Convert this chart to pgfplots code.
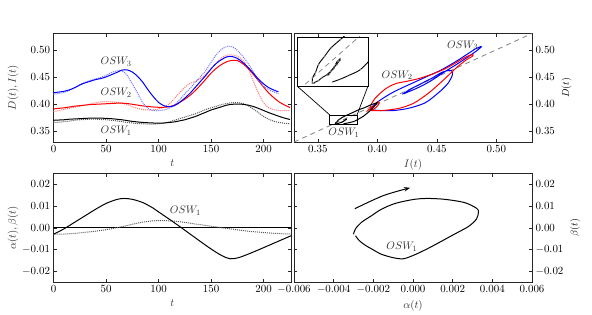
\documentclass[border=0pt]{standalone}
\usepackage{pgfplots}
\pgfplotsset{compat=1.18}
\usepackage{pgfplotstable}
\usetikzlibrary{arrows.meta}

\pgfplotstableread{
t s d
0 0.3700 0.3660
5 0.3705 0.3665
10 0.3710 0.3675
15 0.3720 0.3685
20 0.3725 0.3700
25 0.3730 0.3710
30 0.3735 0.3715
35 0.3740 0.3720
40 0.3740 0.3720
45 0.3740 0.3715
50 0.3735 0.3710
55 0.3730 0.3700
60 0.3720 0.3690
65 0.3710 0.3675
70 0.3695 0.3660
75 0.3680 0.3650
80 0.3670 0.3640
85 0.3660 0.3635
90 0.3655 0.3630
95 0.3650 0.3630
100 0.3650 0.3635
105 0.3650 0.3650
110 0.3660 0.3670
115 0.3670 0.3700
120 0.3690 0.3730
125 0.3710 0.3760
130 0.3740 0.3790
135 0.3770 0.3820
140 0.3810 0.3860
145 0.3850 0.3900
150 0.3890 0.3930
155 0.3920 0.3960
160 0.3950 0.3990
165 0.3980 0.4010
170 0.3995 0.4025
175 0.4000 0.4025
180 0.3995 0.4010
185 0.3980 0.3970
190 0.3955 0.3910
195 0.3920 0.3840
200 0.3880 0.3770
205 0.3840 0.3720
210 0.3805 0.3680
215 0.3770 0.3660
220 0.3740 0.3645
225 0.3715 0.3635
}\oswA

\pgfplotstableread{
t s d
0 0.3910 0.3860
5 0.3920 0.3880
10 0.3930 0.3900
15 0.3945 0.3920
20 0.3960 0.3940
25 0.3970 0.3960
30 0.3980 0.3980
35 0.3990 0.4000
40 0.3995 0.4025
45 0.4000 0.4040
50 0.4005 0.4045
55 0.4010 0.4040
60 0.4015 0.4030
65 0.4015 0.4015
70 0.4010 0.3990
75 0.3995 0.3950
80 0.3980 0.3920
85 0.3965 0.3900
90 0.3955 0.3890
95 0.3945 0.3890
100 0.3940 0.3910
105 0.3940 0.3940
110 0.3950 0.4000
115 0.3980 0.4100
120 0.4030 0.4210
125 0.4090 0.4310
130 0.4160 0.4380
135 0.4250 0.4420
140 0.4350 0.4470
145 0.4460 0.4550
150 0.4570 0.4650
155 0.4660 0.4760
160 0.4730 0.4850
165 0.4780 0.4900
170 0.4805 0.4905
175 0.4800 0.4880
180 0.4745 0.4810
185 0.4660 0.4660
190 0.4550 0.4430
195 0.4430 0.4200
200 0.4310 0.4020
205 0.4200 0.3930
210 0.4110 0.3895
215 0.4035 0.3880
220 0.3980 0.3880
225 0.3935 0.3880
}\oswB

\pgfplotstableread{
t s d
0 0.4210 0.4180
5 0.4220 0.4195
10 0.4235 0.4215
15 0.4260 0.4250
20 0.4300 0.4300
25 0.4350 0.4355
30 0.4390 0.4400
35 0.4420 0.4435
40 0.4450 0.4465
45 0.4470 0.4490
50 0.4500 0.4530
55 0.4540 0.4580
60 0.4580 0.4610
65 0.4625 0.4615
70 0.4630 0.4530
75 0.4590 0.4370
80 0.4510 0.4200
85 0.4400 0.4020
90 0.4260 0.3920
95 0.4135 0.3880
100 0.4030 0.3880
105 0.3970 0.3890
110 0.3950 0.3920
115 0.3970 0.3980
120 0.4030 0.4080
125 0.4110 0.4190
130 0.4200 0.4290
135 0.4310 0.4400
140 0.4420 0.4510
145 0.4530 0.4620
150 0.4650 0.4770
155 0.4750 0.4910
160 0.4820 0.5010
165 0.4870 0.5060
170 0.4875 0.5055
175 0.4840 0.4990
180 0.4770 0.4880
185 0.4680 0.4750
190 0.4570 0.4600
195 0.4460 0.4440
200 0.4370 0.4330
205 0.4300 0.4260
210 0.4255 0.4220
214 0.4225 0.4190
}\oswC

\pgfplotstableread{
t a b
0 -0.0030 -0.0030
10 -0.0005 -0.0029
20 0.0025 -0.0026
30 0.0055 -0.0021
40 0.0085 -0.0016
50 0.0112 -0.0009
60 0.0130 0.0000
67 0.0135 0.0007
75 0.0131 0.0016
85 0.0116 0.0026
95 0.0090 0.0032
100 0.0073 0.0033
110 0.0040 0.0032
120 0.0006 0.0028
130 -0.0029 0.0021
140 -0.0064 0.0014
150 -0.0098 0.0007
160 -0.0128 0.0000
168 -0.0143 -0.0005
176 -0.0138 -0.0010
185 -0.0122 -0.0016
195 -0.0102 -0.0020
205 -0.0081 -0.0024
215 -0.0060 -0.0027
226 -0.0037 -0.0029
}\ab

\definecolor{lblue}{rgb}{0.45,0.45,1}
\definecolor{lred}{rgb}{1,0.45,0.45}
\definecolor{lblack}{rgb}{0.35,0.35,0.35}

\tikzset{lab/.style={font=\fontsize{11}{13}\selectfont, text=black!80}}
\pgfplotsset{
  panel/.style={scale only axis, anchor=south west, width=237.5bp, height=108.5bp,
    axis line style={line width=0.8pt, black!85},
    tick style={line width=0.5pt, black!85}, major tick length=3.5pt,
    tick align=inside, scaled x ticks=false, scaled y ticks=false,
    every tick label/.append style={font=\fontsize{10.5}{12.6}\selectfont},
    label style={font=\fontsize{11}{13}\selectfont, text=black!80},
  },
  leftlab/.style={ylabel style={at={(axis description cs:-0.17,0.5)}, anchor=center}},
  fy2/.style={y tick label style={/pgf/number format/fixed, /pgf/number format/fixed zerofill, /pgf/number format/precision=2}},
  fx2/.style={x tick label style={/pgf/number format/fixed, /pgf/number format/fixed zerofill, /pgf/number format/precision=2}},
  fx3/.style={x tick label style={/pgf/number format/fixed, /pgf/number format/fixed zerofill, /pgf/number format/precision=3}},
  sl/.style={line width=1pt, smooth},
  dl/.style={line width=1pt, densely dotted, smooth},
}

\begin{document}
\begin{tikzpicture}
\useasboundingbox (0,0) rectangle (592bp,315bp);

% top left
\begin{axis}[panel, at={(53.5bp,173bp)}, fy2, leftlab,
  xmin=0, xmax=226, ymin=0.33, ymax=0.53,
  xtick={0,50,100,150,200}, ytick={0.35,0.40,0.45,0.50},
  xlabel={$t$}, ylabel={$D(t),I(t)$}]
\addplot[lblack, dl] table[x=t,y=d]{\oswA};
\addplot[black, sl] table[x=t,y=s]{\oswA};
\addplot[lred, dl] table[x=t,y=d]{\oswB};
\addplot[red, sl] table[x=t,y=s]{\oswB};
\addplot[lblue, dl] table[x=t,y=d]{\oswC};
\addplot[blue, sl] table[x=t,y=s]{\oswC};
\node[lab] at (axis cs:59.6,0.4774) {$OSW_3$};
\node[lab] at (axis cs:59.6,0.421) {$OSW_2$};
\node[lab] at (axis cs:59.6,0.351) {$OSW_1$};
\end{axis}

% top right
\begin{axis}[panel, at={(294bp,173bp)}, width=238bp, fx2, fy2,
  xmin=0.33, xmax=0.53, ymin=0.33, ymax=0.53,
  xtick={0.35,0.40,0.45,0.50}, ytick={0.35,0.40,0.45,0.50},
  yticklabel pos=right, ylabel near ticks,
  xlabel={$I(t)$}, ylabel={$D(t)$}]
\addplot[gray, dashed, line width=0.8pt, dash pattern=on 5pt off 4pt] coordinates {(0.33,0.33) (0.53,0.53)};
\addplot[blue, sl] table[x=s,y=d]{\oswC};
\addplot[red, sl] table[x=s,y=d]{\oswB};
\addplot[black, sl] table[x=s,y=d]{\oswA};
\draw[black, line width=0.7pt] (axis cs:0.360,0.362) rectangle (axis cs:0.383,0.380);
\coordinate (rTL) at (axis cs:0.360,0.380);
\coordinate (rTR) at (axis cs:0.383,0.380);
\node[lab] at (axis cs:0.4717,0.508) {$OSW_3$};
\node[lab] at (axis cs:0.4167,0.453) {$OSW_2$};
\node[lab] at (axis cs:0.372,0.347) {$OSW_1$};
\end{axis}

% inset
\begin{axis}[scale only axis, anchor=south west, at={(297bp,229bp)}, width=71bp, height=49bp,
  name=inset, xmin=0.360, xmax=0.383, ymin=0.362, ymax=0.380,
  xtick=\empty, ytick=\empty, axis line style={line width=0.8pt, black},
  axis background/.style={fill=white}]
\addplot[gray, dashed, line width=0.7pt, dash pattern=on 5pt off 4pt] coordinates {(0.33,0.33) (0.53,0.53)};
\addplot[black, line width=0.9pt, smooth] table[x=s,y=d]{\oswA};
\addplot[only marks, mark=*, mark size=0.5pt, gray] table[x=s,y=d]{\oswA};
\end{axis}
\draw[black, line width=0.7pt] (rTL) -- (inset.south west);
\draw[black, line width=0.7pt] (rTR) -- (inset.south east);

% bottom left
\begin{axis}[panel, at={(53.5bp,33bp)}, fy2, leftlab,
  xmin=0, xmax=226, ymin=-0.025, ymax=0.025,
  xtick={0,50,100,150,200}, ytick={-0.02,-0.01,0,0.01,0.02},
  xlabel={$t$}, ylabel={$\alpha(t),\beta(t)$}]
\addplot[black, line width=0.9pt] coordinates {(0,0) (226,0)};
\addplot[lblack, dl] table[x=t,y=b]{\ab};
\addplot[black, sl] table[x=t,y=a]{\ab};
\node[lab] at (axis cs:125.5,0.0077) {$OSW_1$};
\end{axis}

% bottom right
\begin{axis}[panel, at={(294bp,33bp)}, width=238bp, fx3, fy2,
  xmin=-0.006, xmax=0.006, ymin=-0.025, ymax=0.025,
  xtick={-0.006,-0.004,-0.002,0,0.002,0.004,0.006}, ytick={-0.02,-0.01,0,0.01,0.02},
  yticklabel pos=right, ylabel near ticks,
  xlabel={$\alpha(t)$}, ylabel={$\beta(t)$}]
\addplot[black, sl] table[x=b,y=a]{\ab};
\addplot[black, line width=1pt, smooth, -{Stealth[length=6pt,width=4.5pt]}] coordinates {(-0.00293,0.0088) (-0.0015,0.0148) (-0.00015,0.0184)};
\node[lab] at (axis cs:-0.00056,-0.0089) {$OSW_1$};
\end{axis}
\end{tikzpicture}
\end{document}
